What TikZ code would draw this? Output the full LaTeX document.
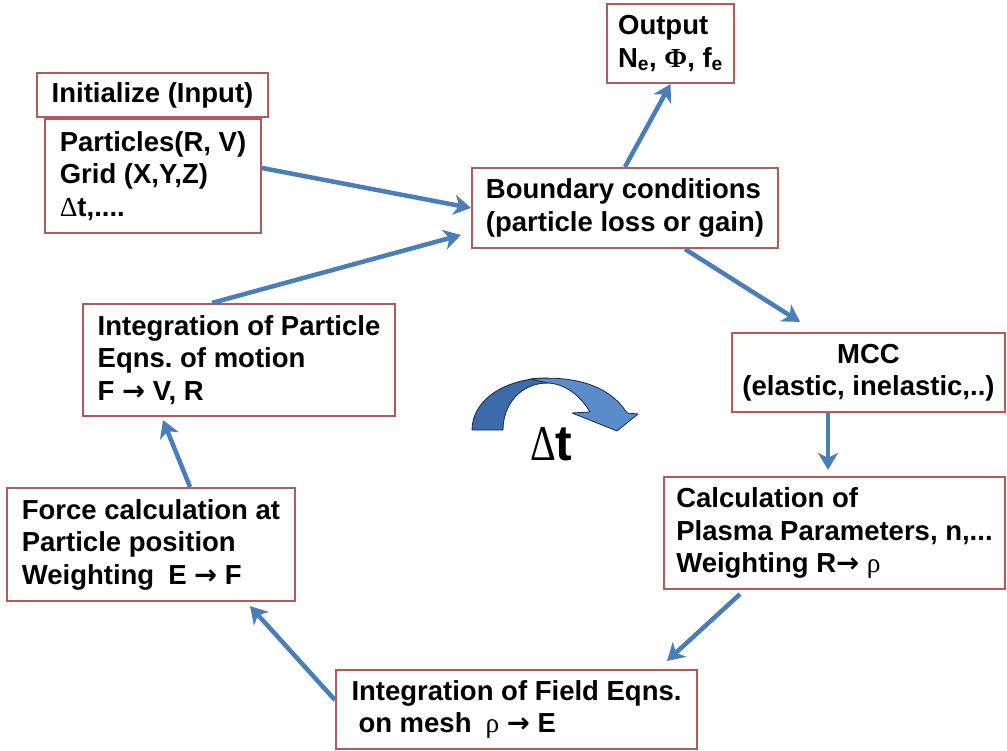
\documentclass[tikz,border=0pt]{standalone}
\usepackage{fontspec}
\usepackage{graphicx}
\setmainfont{Liberation Sans}
\newfontfamily\symf{Liberation Serif}
\newfontfamily\arrf{DejaVu Sans}
\usetikzlibrary{arrows.meta,calc}
\definecolor{boxred}{HTML}{B05C5C}
\definecolor{arrblue}{HTML}{4A7EBB}
\definecolor{cdark}{HTML}{3D6BAA}
\definecolor{clight}{HTML}{5A8CCB}
\definecolor{navy}{HTML}{1A2740}
\newcommand\myarr{{\arrf →}}
\frenchspacing
\begin{document}
\begin{tikzpicture}[x=1pt,y=-1pt,
  box/.style={draw=boxred,line width=2.2pt,fill=white,
    font=\frenchspacing\bfseries\fontsize{27.5}{32.5}\selectfont,inner sep=0pt,align=left},
  flow/.style={draw=arrblue,line width=4.5pt,
    -{Stealth[length=17pt,width=20pt,inset=5pt]}}]
\useasboundingbox (0,0) rectangle (1007,750);

\node[box,minimum width=231pt,minimum height=44pt] (initT) at (152.5,95) {Initialize (Input)};
\node[box,minimum width=216pt,minimum height=114pt] (init) at (153,176)
  {Particles(R, V)\\Grid (X,Y,Z)\\{\symf\mdseries Δ}t,....};
\node[box,minimum width=127pt,minimum height=79pt] (out) at (670.5,43.5)
  {Output\\N\textsubscript{e}, {\symf Φ}, f\textsubscript{e}};
\node[box,minimum width=306pt,minimum height=80pt] (bc) at (625,208)
  {Boundary conditions\\(particle loss or gain)};
\node[box,align=center,minimum width=273pt,minimum height=79pt] (mcc) at (868.5,372.5)
  {MCC\\(elastic, inelastic,..)};
\node[box,minimum width=341pt,minimum height=112pt] (calc) at (834.5,533)
  {Calculation of\\Plasma Parameters, n,...\\Weighting R\myarr\ {\symf\mdseries ρ}};
\node[box,minimum width=361pt,minimum height=79pt] (field) at (516.5,709.5)
  {Integration of Field Eqns.\\\hspace*{7pt}on mesh\hspace{14pt}{\symf\mdseries ρ} \myarr\ E};
\node[box,minimum width=288pt,minimum height=113pt] (force) at (151,544.5)
  {Force calculation at\\Particle position\\Weighting\hspace{14pt}E \myarr\ F};
\node[box,minimum width=312pt,minimum height=112pt] (intp) at (239,360)
  {Integration of Particle\\Eqns. of motion\\F \myarr\ V, R};

\draw[flow] ([yshift=8pt]init.east) -- (bc.west);
\draw[flow] ([xshift=-27pt]intp.north) -- ([xshift=-10pt,yshift=-27pt]bc.west);
\draw[flow] (bc.north) -- (out.south);
\draw[flow] ([xshift=60pt]bc.south) -- ([xshift=-68.5pt,yshift=10pt]mcc.north);
\draw[flow] ([xshift=-40.5pt]mcc.south) -- ([xshift=-6.5pt,yshift=6pt]calc.north);
\draw[flow] ([xshift=-94.5pt,yshift=-4pt]calc.south) -- ([xshift=150.5pt,yshift=8pt]field.north);
\draw[flow] ([yshift=9.5pt]field.west) -- ([xshift=99pt,yshift=-4pt]force.south);
\draw[flow] ([xshift=39pt]force.north) -- ([xshift=-76pt,yshift=-3pt]intp.south);

% curved block arrow
\draw[fill=cdark,draw=navy,line width=0.8pt,line join=round]
  (472,430) .. controls (472,400) and (505,378) .. (548,378)
  -- (548,383) .. controls (520,383) and (503,405) .. (503,430) -- cycle;
\draw[fill=clight,draw=navy,line width=0.8pt,line join=round]
  (530,379) .. controls (585,374) and (614,392) .. (627,413)
  -- (638,414) -- (617,431) -- (572,413) -- (590,412)
  .. controls (580,395) and (565,384) .. (548,383) -- cycle;
\node[anchor=base west,inner sep=0pt,font=\fontsize{50}{50}\selectfont] (dt) at (530,460)
  {{\symf\scalebox{0.8}[1]{Δ}}{\bfseries t}};
\end{tikzpicture}
\end{document}
